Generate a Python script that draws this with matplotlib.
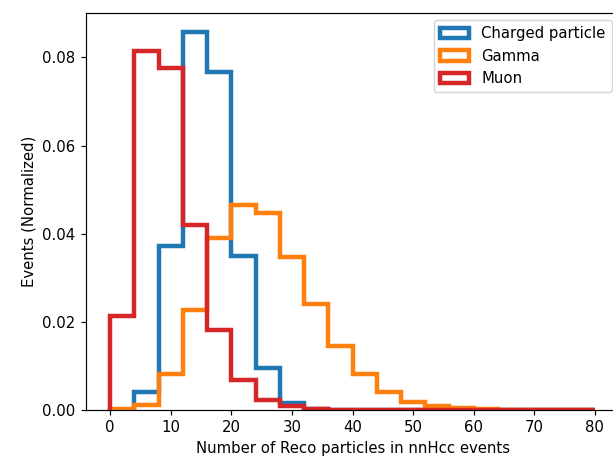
import numpy as np
import matplotlib
matplotlib.use("Agg")
import matplotlib.pyplot as plt

# bin edges: 0..80 in steps of 4
edges = np.arange(0, 84, 4)

# normalized bin heights (20 bins)
charged = [0.0, 0.0040, 0.0373, 0.0858, 0.0766, 0.0350, 0.0095, 0.0015, 0.0002, 0.0,
           0.0, 0.0, 0.0, 0.0, 0.0, 0.0, 0.0, 0.0, 0.0, 0.0]
gamma = [0.0003, 0.0012, 0.0081, 0.0228, 0.0390, 0.0465, 0.0447, 0.0347, 0.0240, 0.0145,
         0.0082, 0.0040, 0.0018, 0.0008, 0.0004, 0.0002, 0.0001, 0.00005, 0.00003, 0.00002]
muon = [0.0213, 0.0815, 0.0775, 0.0420, 0.0181, 0.0068, 0.0022, 0.0008, 0.0002, 0.0001,
        0.0, 0.0, 0.0, 0.0, 0.0, 0.0, 0.0, 0.0, 0.0, 0.0]

series = [("Charged particle", charged, "tab:blue"),
          ("Gamma", gamma, "tab:orange"),
          ("Muon", muon, "tab:red")]

dpi = 107
fig = plt.figure(figsize=(613 / dpi, 457 / dpi), dpi=dpi)
ax = fig.add_axes([0.1403, 0.1028, 0.8695, 0.8688])

for label, vals, col in series:
    ax.hist(edges[:-1], bins=edges, weights=vals, histtype="step",
            linewidth=3, color=col, label=label)

ax.set_xticks(np.arange(0, 90, 10))
ax.set_yticks([0.0, 0.02, 0.04, 0.06, 0.08])
ax.set_xlabel("Number of Reco particles in nnHcc events")
ax.set_ylabel("Events (Normalized)")
ax.legend(loc="upper right")

fig.savefig("out.png", dpi=dpi)
